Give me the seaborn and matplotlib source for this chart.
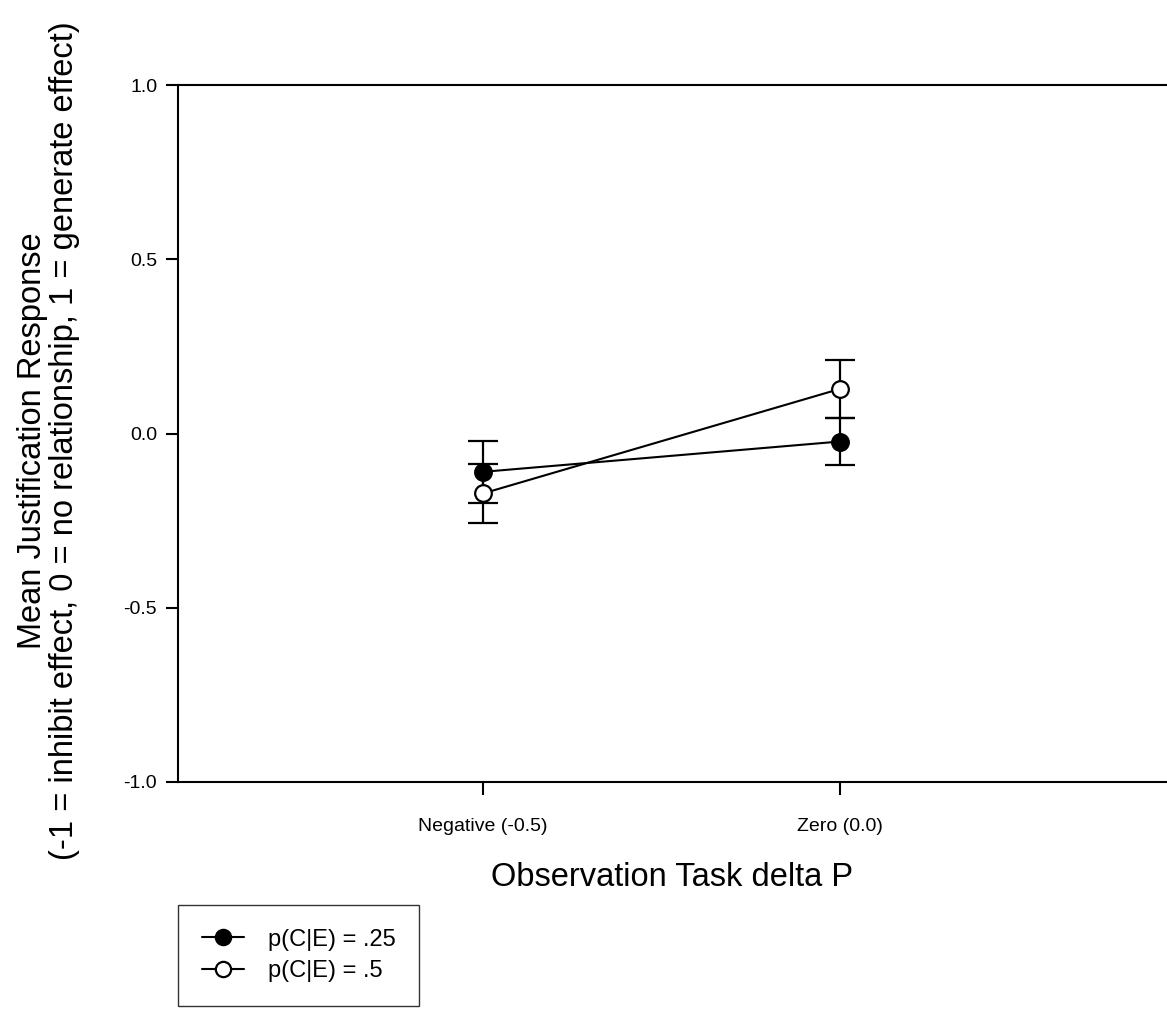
import numpy as np
import pandas as pd
import matplotlib
matplotlib.use("Agg")
import matplotlib.pyplot as plt
import seaborn as sns
from matplotlib.lines import Line2D

categories = ["Negative (-0.5)", "Zero (0.0)"]
series_names = ["p(C|E) = .25", "p(C|E) = .5"]
means_025 = [-0.11, -0.023]
errs_025 = [0.089, 0.067]
means_05 = [-0.172, 0.128]
errs_05 = [0.085, 0.083]
yticks = [-1.0, -0.5, 0.0, 0.5, 1.0]

sns.set_style("white")
plt.rcParams['font.family'] = ['Liberation Sans', 'DejaVu Sans']
plt.rcParams['text.color'] = 'black'

fig = plt.figure(figsize=(11.67, 10.11), dpi=100)
ax = fig.add_axes([178/1167, 1 - 782/1011, 1 - 178/1167, (782 - 85)/1011])

xpos = np.arange(len(categories))
df = pd.DataFrame({
    "x": np.concatenate([xpos, xpos]),
    "y": means_025 + means_05,
    "err": errs_025 + errs_05,
    "series": [series_names[0]] * 2 + [series_names[1]] * 2,
})

faces = {series_names[0]: "black", series_names[1]: "white"}
for name in series_names:
    sub = df[df.series == name]
    ax.errorbar(sub.x, sub.y, yerr=sub.err, fmt="none", ecolor="black",
                elinewidth=1.6, capsize=10.5, capthick=1.6, zorder=2)
for name in series_names:
    sub = df[df.series == name]
    sns.lineplot(data=sub, x="x", y="y", ax=ax, color="black", linewidth=1.5,
                 marker="o", markersize=12, markerfacecolor=faces[name],
                 markeredgecolor="black", markeredgewidth=1.6, zorder=3,
                 legend=False)

ax.set_xlim(-305/357, 1 + 327/357)
ax.set_ylim(-1.0, 1.0)
ax.set_yticks(yticks)
ax.set_yticklabels([f"{v:.1f}" for v in yticks])
ax.set_xticks(xpos)
ax.set_xticklabels(categories)
ax.tick_params(axis="both", direction="out", length=9, width=1.5, color="black",
               labelsize=14, labelcolor="black", left=True, bottom=True, pad=6)
ax.tick_params(axis="x", pad=17)
for s in ["left", "top", "bottom"]:
    ax.spines[s].set_visible(True)
    ax.spines[s].set_color("black")
    ax.spines[s].set_linewidth(1.5)
ax.spines["right"].set_visible(False)

ax.set_xlabel("Observation Task delta P", fontsize=23.5, color="black")
ax.xaxis.set_label_coords(0.5, (782 - 862) / 697)
ax.set_ylabel("Mean Justification Response\n(-1 = inhibit effect, 0 = no relationship, 1 = generate effect)",
              fontsize=23.5, linespacing=1.05, color="black")
ax.yaxis.set_label_coords((80 - 178) / 989, 0.49)

handles = [Line2D([0], [0], color="black", lw=1.5, marker="o", markersize=11,
                  markerfacecolor=faces[n], markeredgecolor="black", markeredgewidth=1.6)
           for n in series_names]
leg = fig.legend(handles, series_names, loc="upper left",
                 bbox_to_anchor=(178/1167, 1 - 905/1011), fontsize=17,
                 frameon=True, fancybox=False, handlelength=1.8, borderpad=1.0,
                 labelspacing=0.4, handletextpad=1.0, borderaxespad=0)
leg.get_frame().set_edgecolor("black")
leg.get_frame().set_linewidth(1.0)
for t in leg.get_texts():
    t.set_color("black")

fig.savefig("out.png", dpi=100)
